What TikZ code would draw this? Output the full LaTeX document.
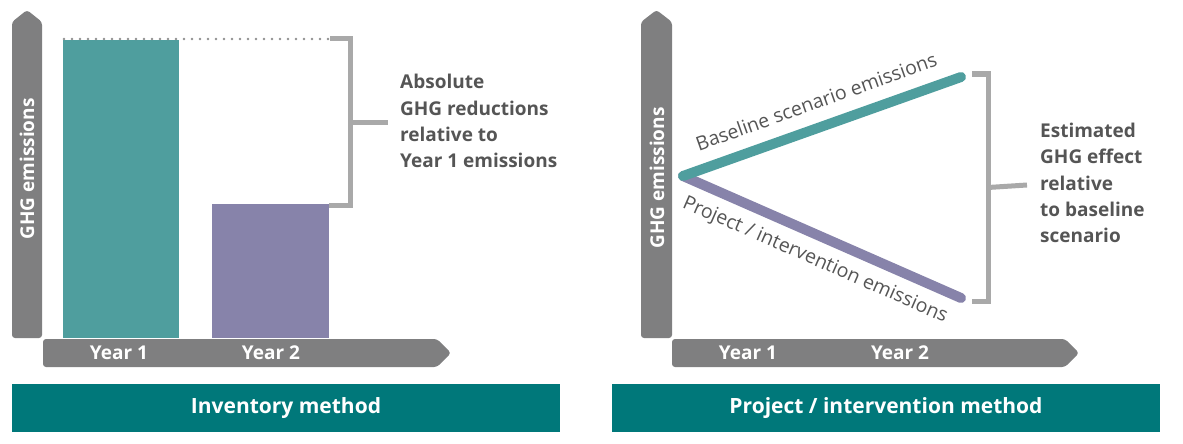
\documentclass[tikz,border=0pt]{standalone}
\usepackage{fontspec}
\setmainfont{Open Sans}
\usetikzlibrary{calc}
\definecolor{axisgrey}{HTML}{7F7F80}
\definecolor{tealbar}{HTML}{4F9E9E}
\definecolor{purplebar}{HTML}{8783AA}
\definecolor{bannerteal}{HTML}{00787A}
\definecolor{bracketgrey}{HTML}{A9A9A9}
\definecolor{dotgrey}{HTML}{8F8F8F}
\definecolor{labelgrey}{HTML}{555555}
\tikzset{
  axisshape/.style={fill=axisgrey, rounded corners=3pt},
  axistext/.style={text=white, font=\fontsize{19}{22}\selectfont\bfseries, inner sep=0pt},
  bar/.style={inner sep=0pt, anchor=north west},
  banner/.style={fill=bannerteal, text=white, minimum width=548pt, minimum height=48pt,
    inner sep=0pt, font=\fontsize{21}{24}\selectfont\bfseries},
  bracket/.style={draw=bracketgrey, line width=5pt},
  note/.style={text=labelgrey, align=left, inner sep=0pt, anchor=west,
    font=\fontsize{19}{26.2}\selectfont\bfseries},
  trend/.style={line width=10pt, line cap=round},
  trendlabel/.style={text=labelgrey, sloped, inner sep=0pt, font=\fontsize{19.5}{22}\selectfont},
}
\begin{document}
\begin{tikzpicture}[x=1pt, y=-1pt]
\useasboundingbox (0,0) rectangle (1183,444);

% ---------- left panel: inventory method ----------
\fill[axisshape] (12,338) -- (12,22) -- (27,10) -- (42,22) -- (42,338) -- cycle;
\node[axistext, rotate=90] (yl) at (27,169) {GHG emissions};
\fill[axisshape] (43,339) -- (437,339) -- (451,353) -- (437,367) -- (43,367) -- cycle;
\node[axistext] (l1) at (119,353) {Year 1};
\node[axistext] (l2) at (271,353) {Year 2};

\node[bar, fill=tealbar, minimum width=116pt, minimum height=298pt] (b1) at (63,40) {};
\node[bar, fill=purplebar, minimum width=117pt, minimum height=134pt] (b2) at (212,204) {};

\coordinate (bt) at (350,39);
\coordinate (bb) at (350,205);
\draw[dotgrey, line width=2.8pt, line cap=round, dash pattern=on 0pt off 8pt]
  ($(b1.north west)+(1,-1)$) -- (330,39);
\draw[bracket] (330,39) -- (bt) -- (bb) -- (329,205);
\node[note] (t1) at (400,121) {Absolute\\GHG reductions\\relative to\\Year 1 emissions};
\draw[bracket] ($(bt)!0.5!(bb)$) -- (388,122);

\node[banner] (m1) at (286,408) {Inventory method};

% ---------- right panel: project / intervention method ----------
\fill[axisshape] (641,338) -- (641,22) -- (656.5,10) -- (672,22) -- (672,338) -- cycle;
\node[axistext, rotate=90] (yr) at (657,178) {GHG emissions};
\fill[axisshape] (672,339) -- (1065,339) -- (1079,353) -- (1065,367) -- (672,367) -- cycle;
\node[axistext] (r1) at (748,353) {Year 1};
\node[axistext] (r2) at (900,353) {Year 2};

\coordinate (s) at (683,176);
\coordinate (pe) at (961,298);
\coordinate (be) at (961,77);
\draw[trend, purplebar] (s) -- node[trendlabel, below=10pt, pos=0.51] {Project / intervention emissions} (pe);
\draw[trend, tealbar] (s) -- node[trendlabel, above=13pt, pos=0.51] {Baseline scenario emissions} (be);

\coordinate (ct) at (988,74);
\coordinate (cb) at (988,301);
\draw[bracket] (972,74) -- (ct) -- (cb) -- (972,301);
\node[note] (t2) at (1040,183) {Estimated\\GHG effect\\relative\\to baseline\\scenario};
\draw[bracket] ($(ct)!0.5!(cb)$) -- (1027,185);

\node[banner] (m2) at (886,408) {Project / intervention method};
\end{tikzpicture}
\end{document}
